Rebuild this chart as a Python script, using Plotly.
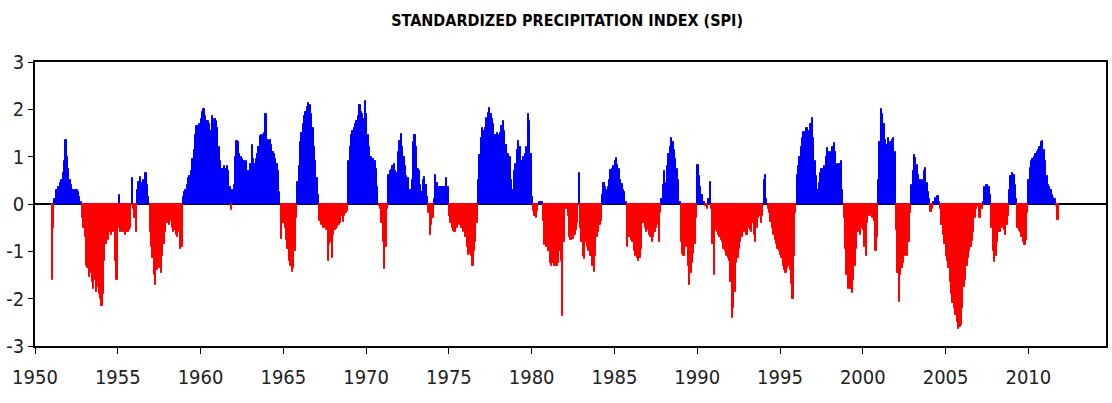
import pandas as pd
import plotly.graph_objects as go

# Monthly SPI values (Jan 1951 .. Oct 2011)
spi_1950s = [
    -1.6, -0.5, 0.1, 0.3, 0.3, 0.35, 0.45, 0.5, 0.65, 0.9, 1.35, 1.0,          # 1951
    0.75, 0.5, 0.4, 0.3, 0.25, 0.3, 0.3, 0.25, 0.15, 0.05, -0.3, -0.5,          # 1952
    -0.7, -1.3, -1.35, -1.55, -1.45, -1.65, -1.8, -1.6, -1.85, -1.75, -1.9, -2.0,  # 1953
    -2.15, -1.9, -1.2, -0.85, -0.7, -0.75, -0.6, -0.65, -0.6, -0.55, -1.2, -1.6,   # 1954
    -0.5, 0.2, -0.6, -0.55, -0.6, -0.65, -0.6, -0.6, -0.55, -0.5, 0.55, -0.1,      # 1955
    -0.3, -0.6, 0.3, 0.47, 0.58, 0.45, 0.5, 0.4, 0.65, 0.4, 0.15, -0.6,            # 1956
    -0.9, -1.15, -1.5, -1.72, -1.4, -1.25, -1.35, -1.45, -1.1, -0.85, -0.6, -0.3,  # 1957
    -0.4, -0.45, -0.35, -0.5, -0.6, -0.55, -0.65, -0.7, -0.6, -0.95, -0.9, 0.15,   # 1958
    0.25, 0.3, 0.4, 0.55, 0.6, 0.7, 0.95, 1.15, 1.45, 1.65, 1.55, 1.7,             # 1959
]
spi_1960s = [
    1.8, 1.95, 2.0, 1.85, 1.65, 1.75, 1.7, 1.55, 1.86, 1.75, 1.8, 1.75,            # 1960
    1.6, 1.2, 0.9, 0.75, 0.7, 0.8, 0.75, 0.8, 0.7, 0.35, -0.12, 0.3,               # 1961
    0.4, 1.0, 1.33, 1.3, 1.05, 1.0, 0.95, 0.9, 0.85, 0.9, 0.7, 0.45,               # 1962
    0.85, 1.25, 0.95, 0.85, 0.95, 1.05, 1.2, 1.43, 1.45, 1.25, 1.5, 1.9,           # 1963
    1.35, 1.36, 1.36, 1.25, 1.1, 1.05, 0.95, 0.85, 0.7, 0.25, -0.73, -0.4,         # 1964
    -0.4, -0.5, -0.75, -0.95, -1.2, -1.3, -1.44, -1.35, -1.0, -0.3, 0.47, 0.8,     # 1965
    1.3, 1.5, 1.7, 1.85, 1.95, 2.05, 2.14, 2.1, 1.9, 1.6, 1.2, 0.9,               # 1966
    0.55, 0.2, -0.35, -0.45, -0.4, -0.5, -0.45, -0.55, -1.2, -0.85, -0.8, -1.15,  # 1967
    -0.65, -0.55, -0.52, -0.48, -0.45, -0.4, -0.25, -0.38, -0.25, -0.2, -0.15, 0.9,  # 1968
    1.2, 1.45, 1.55, 1.6, 1.68, 1.75, 1.85, 2.1, 1.95, 1.9, 1.8, 2.18,             # 1969
]
spi_1970s = [
    1.9, 1.45, 1.2, 1.0, 0.95, 0.95, 0.9, 0.75, 0.35, -0.05, -0.1, -0.4,           # 1970
    -0.8, -1.37, -0.9, -0.1, 0.62, 0.7, 0.72, 0.8, 0.85, 0.7, 0.65, 1.1,           # 1971
    1.33, 1.47, 1.2, 1.0, 0.8, 0.6, 0.55, 0.3, 0.3, 0.5, 1.3, 1.45,                # 1972
    1.2, 0.75, 0.7, 0.4, 0.25, 0.5, 0.58, 0.4, 0.15, -0.2, -0.66, -0.45,           # 1973
    -0.3, 0.1, 0.62, 0.45, 0.35, 0.35, 0.35, 0.35, 0.35, 0.35, 0.55, 0.35,         # 1974
    -0.25, -0.4, -0.5, -0.58, -0.6, -0.45, -0.5, -0.45, -0.4, -0.5, -0.6, -0.5,    # 1975
    -0.7, -0.9, -1.08, -1.05, -1.1, -1.3, -1.0, -0.8, -0.4, 0.5, 1.04, 1.4,        # 1976
    1.6, 1.55, 1.6, 1.82, 1.92, 2.03, 1.9, 1.8, 1.7, 1.45, 1.33, 1.5,              # 1977
    1.45, 1.5, 1.65, 1.75, 1.55, 1.25, 1.05, 1.05, 1.0, 0.5, 0.3, 0.7,             # 1978
    0.85, 1.15, 1.33, 1.2, 0.9, 0.9, 1.0, 1.05, 1.2, 1.9, 1.75, 1.05,              # 1979
]
spi_1980s = [
    0.15, -0.15, -0.25, -0.3, -0.15, 0.05, 0.05, 0.05, -0.35, -0.87, -0.9, -0.8,   # 1980
    -1.0, -1.25, -1.3, -1.25, -1.3, -1.3, -1.3, -1.25, -1.0, -1.2, -2.36, -0.8,    # 1981
    -0.05, -0.1, -0.25, -0.7, -0.75, -0.73, -0.73, -0.65, -0.55, -0.4, 0.65, -0.5, # 1982
    -0.8, -1.1, -1.16, -0.8, -0.9, -1.0, -1.1, -1.1, -1.3, -1.44, -1.1, -0.7,      # 1983
    -0.6, -0.45, -0.35, 0.2, 0.44, 0.35, 0.3, 0.35, 0.5, 0.72, 0.75, 0.8,          # 1984
    0.9, 0.97, 0.83, 0.75, 0.5, 0.42, 0.3, 0.25, 0.05, -0.9, -0.7, -0.65,          # 1985
    -0.75, -0.8, -1.0, -1.1, -1.15, -1.2, -1.15, -0.95, -0.3, -0.4, -0.5, -0.6,    # 1986
    -0.55, -0.65, -0.7, -0.8, -0.7, -0.6, -0.5, -0.45, -0.8, -0.2, 0.1, 0.4,       # 1987
    0.69, 0.45, 0.8, 1.05, 1.2, 1.4, 1.3, 1.15, 0.95, 0.75, 0.5, 0.05,             # 1988
    -0.8, -1.05, -1.1, -0.8, -0.9, -1.3, -1.72, -1.45, -1.25, -1.05, -0.85, -0.3,  # 1989
]
spi_1990s = [
    0.83, 0.6, 0.35, 0.2, 0.05, 0.05, -0.05, -0.1, 0.1, 0.47, -0.1, -0.85,         # 1990
    -1.5, -0.55, -0.6, -0.65, -0.7, -0.75, -0.8, -0.95, -1.0, -1.1, -1.15, -1.2,   # 1991
    -1.65, -2.4, -2.2, -1.85, -1.25, -1.15, -0.95, -0.8, -0.7, -0.55, -0.6, -0.65, # 1992
    -0.65, -0.5, -0.55, -0.6, -0.4, -0.65, -0.8, -0.5, -0.3, -0.25, -0.4, -0.25,   # 1993
    0.5, 0.62, 0.1, -0.1, -0.2, -0.38, -0.5, -0.65, -0.75, -0.85, -0.95, -1.0,     # 1994
    -1.08, -1.15, -1.3, -1.4, -1.45, -1.35, -1.3, -1.4, -1.7, -2.0, -1.1, -0.2,    # 1995
    0.62, 0.8, 1.0, 1.2, 1.4, 1.53, 1.53, 1.6, 1.45, 1.55, 1.7, 1.82,              # 1996
    1.4, 0.9, 0.6, 0.3, 0.45, 0.65, 0.75, 0.75, 0.8, 1.0, 1.18, 1.1,               # 1997
    1.0, 1.1, 1.2, 1.29, 1.1, 0.85, 0.78, 0.85, 0.9, 0.3, -0.3, -0.95,             # 1998
    -1.5, -1.8, -1.7, -1.8, -1.87, -1.6, -1.3, -0.95, -0.6, -0.55, -0.65, -0.5,    # 1999
]
spi_2000s = [
    -0.55, -0.9, -1.1, -0.4, -0.25, -0.2, -0.25, -0.3, -0.35, -1.0, -0.7, 0.5,     # 2000
    1.3, 2.0, 1.9, 1.7, 1.35, 1.25, 1.4, 1.25, 1.3, 1.35, 1.4, 1.1,                # 2001
    -0.55, -1.45, -2.08, -1.5, -1.36, -1.25, -1.1, -1.1, -1.1, -0.8, -0.2, 0.4,    # 2002
    0.7, 1.04, 0.98, 0.83, 0.62, 0.5, 0.45, 0.5, 0.69, 0.76, 0.45, 0.25,           # 2003
    0.1, -0.16, -0.1, 0.05, 0.12, 0.08, 0.16, 0.05, -0.1, -0.45, -0.65, -0.85,     # 2004
    -1.1, -1.2, -1.35, -1.65, -1.9, -2.1, -2.2, -2.35, -2.5, -2.65, -2.6, -2.55,   # 2005
    -2.2, -1.75, -1.6, -1.3, -1.15, -1.0, -0.9, -0.78, -0.6, -0.3, -0.1, -0.05,    # 2006
    -0.3, -0.3, -0.1, 0.05, 0.35, 0.4, 0.4, 0.35, 0.2, -0.5, -1.0, -1.23,          # 2007
    -1.1, -0.8, -0.6, -0.6, -0.45, -0.5, -0.55, -0.66, -0.45, -0.25, 0.3, 0.6,     # 2008
    0.65, 0.62, 0.4, 0.1, -0.5, -0.58, -0.6, -0.7, -0.8, -0.87, -0.75, -0.2,       # 2009
]
spi_2010s = [
    0.5, 0.76, 0.9, 0.95, 1.0, 1.05, 1.1, 1.15, 1.2, 1.3, 1.33, 1.15,              # 2010
    0.9, 0.6, 0.4, 0.35, 0.3, 0.2, 0.12, 0.1, -0.05, -0.34,                        # 2011
]

start_month = "1951-01-01"
tick_years = [1950, 1955, 1960, 1965, 1970, 1975, 1980, 1985, 1990, 1995, 2000, 2005, 2010]
y_ticks = [3, 2, 1, 0, -1, -2, -3]
y_labels = ["3", "2", "1", "0", "-1", "-2", "-3"]

spi = spi_1950s + spi_1960s + spi_1970s + spi_1980s + spi_1990s + spi_2000s + spi_2010s
months = pd.date_range(start_month, periods=len(spi), freq="MS") + pd.Timedelta(days=15)
colors = ["#0000FF" if v >= 0 else "#FF0000" for v in spi]

fig = go.Figure(
    go.Bar(
        x=months,
        y=spi,
        marker=dict(color=colors, line=dict(color=colors, width=1)),
        showlegend=False,
    )
)

font_family = "DejaVu Sans Condensed, Liberation Sans Narrow, Arial Narrow, sans-serif"

fig.update_layout(
    width=1112,
    height=403,
    margin=dict(l=35, r=4, t=62, b=57),
    paper_bgcolor="white",
    plot_bgcolor="white",
    bargap=0,
    title=dict(
        text="<b>STANDARDIZED PRECIPITATION INDEX (SPI)</b>",
        x=0.51,
        xanchor="center",
        y=0.95,
        yanchor="middle",
        font=dict(family=font_family, size=16, color="black"),
    ),
)

fig.update_xaxes(
    type="date",
    range=["1950-01-01", "2014-09-10"],
    tickvals=[f"{y}-01-01" for y in tick_years],
    ticktext=[str(y) for y in tick_years],
    ticks="outside",
    ticklen=6,
    tickcolor="black",
    ticklabelstandoff=6,
    showline=True,
    linecolor="black",
    linewidth=1.5,
    mirror=True,
    showgrid=False,
    zeroline=False,
    tickfont=dict(family=font_family, size=20, color="#222"),
)

fig.update_yaxes(
    range=[-3, 3],
    tickvals=y_ticks,
    ticktext=y_labels,
    ticks="outside",
    ticklen=5,
    tickcolor="black",
    showline=True,
    linecolor="black",
    linewidth=1.5,
    mirror=True,
    showgrid=False,
    zeroline=True,
    zerolinecolor="black",
    zerolinewidth=1.5,
    tickfont=dict(family=font_family, size=20, color="#222"),
)

fig.write_html("out.html")
